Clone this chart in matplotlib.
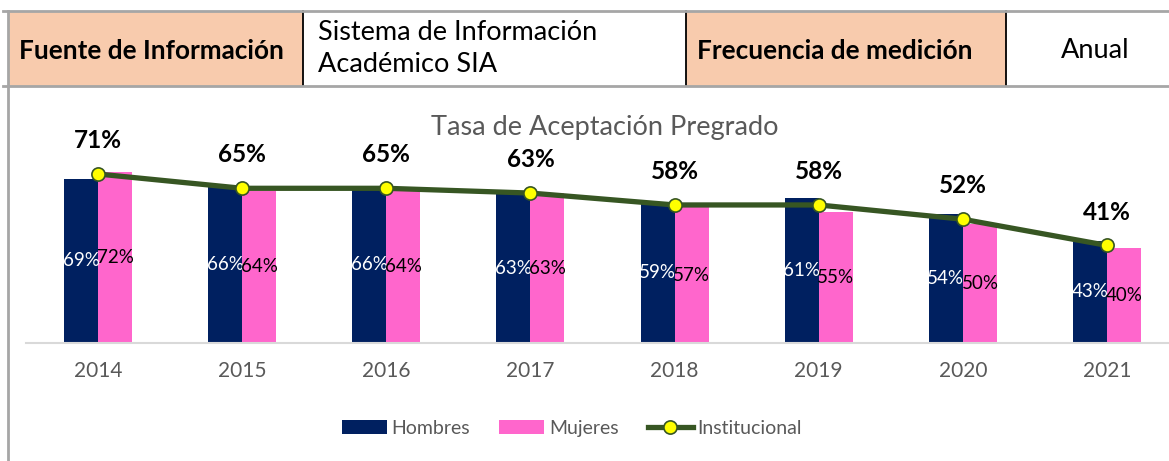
import numpy as np
import matplotlib as mpl
mpl.use("Agg")
import matplotlib.pyplot as plt
from matplotlib.patches import Rectangle, Patch
from matplotlib.lines import Line2D

plt.rcParams["font.family"] = ["Lato", "DejaVu Sans"]

years = ["2014", "2015", "2016", "2017", "2018", "2019", "2020", "2021"]
hombres = [69, 66, 66, 63, 59, 61, 54, 43]
mujeres = [72, 64, 64, 63, 57, 55, 50, 40]
institucional = [71, 65, 65, 63, 58, 58, 52, 41]

header_cells = ["Fuente de Información", "Sistema de Información\nAcadémico SIA",
                "Frecuencia de medición", "Anual"]

NAVY = "#002060"
PINK = "#FF66CC"
GREEN = "#375623"
GRAY = "#595959"
PEACH = "#F8CBAD"

W, H = 1169, 461
fig = plt.figure(figsize=(W / 100, H / 100), dpi=100)


def fx(x):
    return x / W


def fy(y):
    return 1 - y / H


# ---- header table ----
edges = [8, 303, 686, 1006, 1169]
fills = [PEACH, "white", PEACH, "white"]
top, bot = 11, 86
for i, (txt, fc) in enumerate(zip(header_cells, fills)):
    x0, x1 = edges[i], edges[i + 1]
    fig.add_artist(Rectangle((fx(x0), fy(bot)), fx(x1 - x0), (bot - top) / H,
                             transform=fig.transFigure, facecolor=fc, edgecolor="none"))
    bold = fc == PEACH
    if i == 1:
        fig.text(fx(x0 + 15), fy((top + bot) / 2), txt, ha="left", va="center",
                 fontsize=19.5, linespacing=1.35)
    elif i == 3:
        fig.text(fx((x0 + x1) / 2 + 8), fy((top + bot) / 2 + 2), txt, ha="center",
                 va="center", fontsize=19.5)
    else:
        fig.text(fx(x0 + 11), fy((top + bot) / 2 + 2), txt, ha="left", va="center",
                 fontsize=18.8, fontweight="bold" if bold else "normal")
for xe in edges[1:-1]:
    fig.add_artist(Line2D([fx(xe), fx(xe)], [fy(bot), fy(top)], color="black", lw=1.3,
                          transform=fig.transFigure))
for yy in (top, bot):
    fig.add_artist(Line2D([fx(3), 1], [fy(yy), fy(yy)], color="#A6A6A6", lw=2,
                          transform=fig.transFigure))
fig.add_artist(Line2D([fx(8), fx(8)], [0, fy(top)], color="#A6A6A6", lw=2,
                      transform=fig.transFigure))

# ---- chart ----
ax = fig.add_axes([fx(26), fy(343), fx(1169 - 26), (343 - 105) / H])
x = np.arange(len(years))
bw = 0.236
ax.bar(x - bw / 2, hombres, bw, color=NAVY, label="Hombres", zorder=2)
ax.bar(x + bw / 2, mujeres, bw, color=PINK, label="Mujeres", zorder=2)
ax.plot(x, institucional, color=GREEN, lw=3.8, marker="o", ms=9.5,
        mfc="#FFFF00", mec=GREEN, mew=1.2, label="Institucional", zorder=3)

for xi, v in zip(x, hombres):
    ax.text(xi - bw / 2, v / 2, f"{v}%", ha="center", va="center", color="white",
            fontsize=13.5, zorder=4)
for xi, v in zip(x, mujeres):
    ax.text(xi + bw / 2, v / 2, f"{v}%", ha="center", va="center", color="black",
            fontsize=13.5, zorder=4)
for xi, v in zip(x, institucional):
    ax.annotate(f"{v}%", (xi, v), xytext=(0, 24), textcoords="offset points",
                ha="center", va="center", fontsize=17.5, fontweight="bold", zorder=4)

ax.set_xlim(-0.5, 7.43)
ax.set_ylim(0, 100)
for s in ("top", "right", "left"):
    ax.spines[s].set_visible(False)
ax.spines["bottom"].set_color("#D9D9D9")
ax.spines["bottom"].set_linewidth(1.5)
ax.set_yticks([])
ax.set_xticks(x)
ax.set_xticklabels(years, fontsize=15, color=GRAY)
ax.tick_params(axis="x", length=0, pad=13)

fig.text(fx(605), fy(128), "Tasa de Aceptación Pregrado", ha="center", va="center",
         fontsize=19.5, color=GRAY)

handles = [Patch(facecolor=NAVY), Patch(facecolor=PINK),
           Line2D([], [], color=GREEN, lw=3.8, marker="o", ms=9.5, mfc="#FFFF00",
                  mec=GREEN, mew=1.2)]
leg = fig.legend(handles, ["Hombres", "Mujeres", "Institucional"], ncol=3,
                 loc="center", bbox_to_anchor=(fx(572), fy(428)), frameon=False,
                 fontsize=14, handlelength=2.3, handleheight=0.7, handletextpad=0.25,
                 columnspacing=1.5)
for t in leg.get_texts():
    t.set_color(GRAY)

fig.savefig("out.png", dpi=100)
